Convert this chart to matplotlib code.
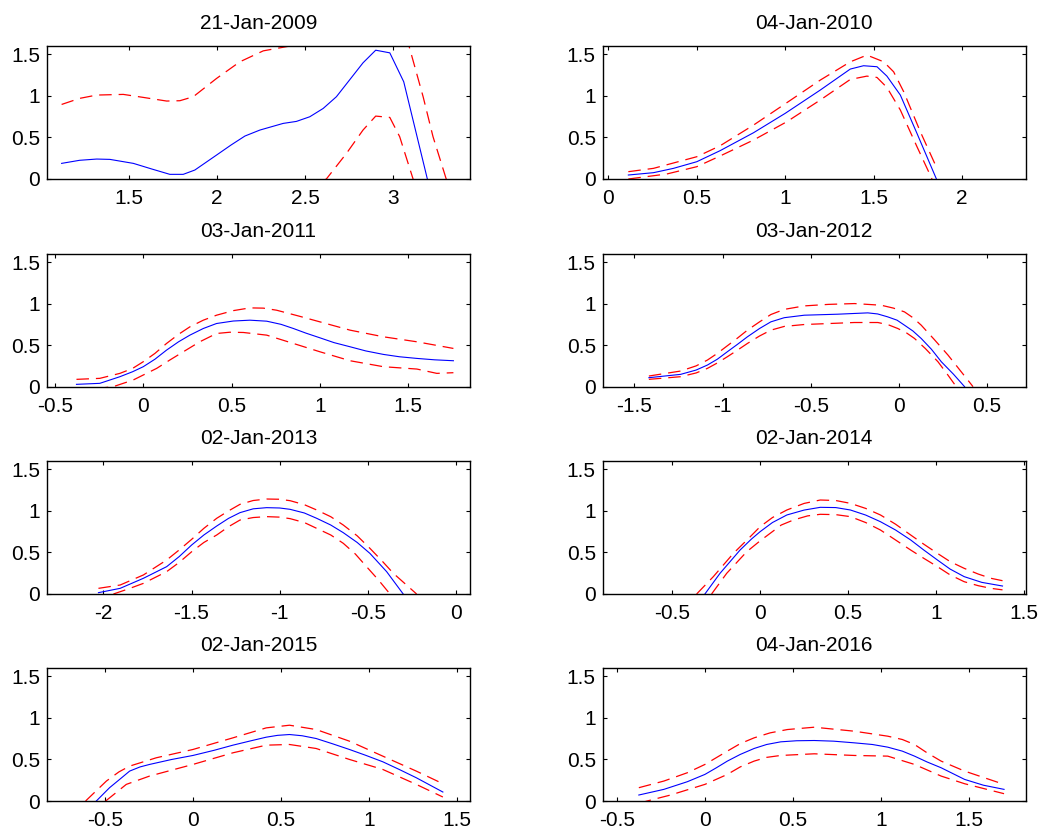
import numpy as np
import matplotlib
matplotlib.use('Agg')
import matplotlib.pyplot as plt
from matplotlib.ticker import FormatStrFormatter

plt.rcParams['font.family'] = ['Liberation Sans', 'DejaVu Sans']
plt.rcParams['lines.scale_dashes'] = False

titles = ['21-Jan-2009', '04-Jan-2010', '03-Jan-2011', '03-Jan-2012',
          '02-Jan-2013', '02-Jan-2014', '02-Jan-2015', '04-Jan-2016']
xlims = [(1.035, 3.435), (-0.032, 2.36), (-0.545, 1.85), (-1.68, 0.72),
         (-2.32, 0.08), (-0.895, 1.51), (-0.828, 1.572), (-0.58, 1.82)]
xticks = [[1.5, 2, 2.5, 3], [0, 0.5, 1, 1.5, 2], [-0.5, 0, 0.5, 1, 1.5],
          [-1.5, -1, -0.5, 0, 0.5], [-2, -1.5, -1, -0.5, 0],
          [-0.5, 0, 0.5, 1, 1.5], [-0.5, 0, 0.5, 1, 1.5], [-0.5, 0, 0.5, 1, 1.5]]
yticks = [0, 0.5, 1, 1.5]

# (x, density) estimate and upper / lower bands
est_2009 = [(1.118, 0.188), (1.22, 0.225), (1.317, 0.24), (1.392, 0.236), (1.525, 0.188),
            (1.63, 0.12), (1.732, 0.056), (1.808, 0.056), (1.874, 0.108), (1.997, 0.288),
            (2.08, 0.41), (2.158, 0.517), (2.243, 0.589), (2.375, 0.669), (2.45, 0.693),
            (2.526, 0.749), (2.602, 0.849), (2.677, 0.99), (2.828, 1.398), (2.90, 1.55),
            (2.98, 1.518), (3.059, 1.17), (3.193, 0.0), (3.25, -0.3)]
hi_2009 = [(1.118, 0.897), (1.22, 0.97), (1.317, 1.01), (1.468, 1.018), (1.581, 0.982),
           (1.714, 0.938), (1.789, 0.942), (1.865, 0.99), (1.997, 1.21), (2.129, 1.41),
           (2.262, 1.542), (2.413, 1.60), (2.6, 1.66), (2.8, 1.95), (2.95, 2.1),
           (3.05, 1.8), (3.089, 1.6), (3.169, 0.99), (3.225, 0.51), (3.30, 0.0), (3.35, -0.3)]
lo_2009 = [(1.118, -0.52), (1.5, -0.62), (2.0, -0.6), (2.4, -0.25), (2.62, 0.0),
           (2.734, 0.308), (2.828, 0.589), (2.90, 0.757), (2.98, 0.741), (3.036, 0.509),
           (3.112, 0.0), (3.15, -0.3)]

est_2010 = [(0.113, 0.048), (0.255, 0.076), (0.368, 0.128), (0.5, 0.208), (0.632, 0.341),
            (0.821, 0.557), (1.0, 0.79), (1.198, 1.07), (1.368, 1.323), (1.443, 1.363),
            (1.519, 1.351), (1.575, 1.238), (1.651, 1.01), (1.745, 0.549), (1.855, 0.0)]
hi_2010 = [(0.113, 0.088), (0.255, 0.128), (0.5, 0.268), (0.632, 0.40), (0.821, 0.649),
           (1.009, 0.918), (1.198, 1.19), (1.368, 1.41), (1.462, 1.491), (1.557, 1.41),
           (1.613, 1.29), (1.67, 1.05), (1.764, 0.569), (1.858, 0.128)]
lo_2010 = [(0.113, 0.0), (0.33, 0.06), (0.5, 0.148), (0.632, 0.277), (0.821, 0.469),
           (1.009, 0.689), (1.198, 0.95), (1.368, 1.198), (1.462, 1.238), (1.519, 1.222),
           (1.575, 1.102), (1.651, 0.83), (1.745, 0.389), (1.83, 0.0)]

est_2011 = [(-0.378, 0.028), (-0.246, 0.04), (-0.132, 0.12), (-0.06, 0.18), (0.0, 0.24),
            (0.066, 0.33), (0.132, 0.44), (0.2, 0.54), (0.264, 0.62), (0.34, 0.70),
            (0.415, 0.76), (0.51, 0.79), (0.604, 0.80), (0.699, 0.788), (0.78, 0.75),
            (0.85, 0.70), (0.92, 0.645), (1.0, 0.588), (1.08, 0.53), (1.171, 0.48),
            (1.26, 0.43), (1.36, 0.388), (1.45, 0.36), (1.549, 0.34), (1.65, 0.323),
            (1.756, 0.312)]
hi_2011 = [(-0.378, 0.088), (-0.246, 0.10), (-0.132, 0.16), (-0.06, 0.22), (0.0, 0.30),
           (0.066, 0.40), (0.132, 0.52), (0.2, 0.63), (0.264, 0.72), (0.34, 0.80),
           (0.415, 0.86), (0.51, 0.915), (0.604, 0.948), (0.68, 0.945), (0.755, 0.92),
           (0.88, 0.85), (1.0, 0.78), (1.171, 0.68), (1.36, 0.60), (1.549, 0.54), (1.756, 0.46)]
lo_2011 = [(-0.378, -0.05), (-0.17, 0.0), (-0.057, 0.08), (0.076, 0.22), (0.15, 0.32),
           (0.227, 0.42), (0.32, 0.54), (0.415, 0.64), (0.49, 0.655), (0.567, 0.652),
           (0.699, 0.62), (0.85, 0.52), (1.0, 0.42), (1.171, 0.312), (1.36, 0.24),
           (1.549, 0.212), (1.662, 0.16), (1.756, 0.168)]

est_2012 = [(-1.418, 0.108), (-1.238, 0.148), (-1.15, 0.2), (-1.086, 0.26), (-1.03, 0.33),
            (-0.973, 0.42), (-0.915, 0.51), (-0.859, 0.60), (-0.79, 0.70), (-0.726, 0.78),
            (-0.65, 0.83), (-0.536, 0.86), (-0.347, 0.872), (-0.176, 0.888), (-0.12, 0.875),
            (-0.063, 0.84), (-0.01, 0.80), (0.032, 0.74), (0.08, 0.67), (0.127, 0.58),
            (0.185, 0.45), (0.241, 0.30), (0.31, 0.15), (0.373, 0.0)]
hi_2012 = [(-1.418, 0.128), (-1.238, 0.188), (-1.15, 0.25), (-1.086, 0.32), (-1.03, 0.40),
           (-0.973, 0.492), (-0.915, 0.585), (-0.859, 0.68), (-0.79, 0.78), (-0.726, 0.868),
           (-0.65, 0.93), (-0.536, 0.972), (-0.4, 0.99), (-0.252, 1.0), (-0.10, 0.98),
           (-0.03, 0.945), (0.032, 0.90), (0.08, 0.83), (0.127, 0.74), (0.2, 0.57),
           (0.279, 0.38), (0.35, 0.19), (0.421, 0.0)]
lo_2012 = [(-1.418, 0.088), (-1.238, 0.12), (-1.15, 0.165), (-1.086, 0.22), (-1.03, 0.285),
           (-0.973, 0.36), (-0.915, 0.44), (-0.859, 0.52), (-0.79, 0.61), (-0.726, 0.68),
           (-0.65, 0.725), (-0.536, 0.748), (-0.252, 0.772), (-0.119, 0.772), (-0.06, 0.745),
           (-0.006, 0.70), (0.045, 0.645), (0.089, 0.58), (0.15, 0.46), (0.222, 0.30),
           (0.275, 0.15), (0.326, 0.0)]

est_2013 = [(-2.028, 0.016), (-1.905, 0.068), (-1.773, 0.189), (-1.641, 0.329), (-1.57, 0.45),
            (-1.499, 0.59), (-1.43, 0.71), (-1.357, 0.818), (-1.29, 0.91), (-1.225, 0.979),
            (-1.15, 1.025), (-1.074, 1.039), (-1.0, 1.035), (-0.941, 1.019), (-0.86, 0.975),
            (-0.79, 0.911), (-0.71, 0.83), (-0.639, 0.738), (-0.56, 0.62), (-0.488, 0.489),
            (-0.393, 0.269), (-0.299, 0.0)]
hi_2013 = [(-2.028, 0.068), (-1.905, 0.108), (-1.773, 0.229), (-1.641, 0.409), (-1.57, 0.53),
           (-1.499, 0.658), (-1.43, 0.79), (-1.357, 0.911), (-1.29, 1.0), (-1.225, 1.079),
           (-1.15, 1.125), (-1.074, 1.143), (-1.0, 1.14), (-0.941, 1.123), (-0.86, 1.075),
           (-0.79, 1.011), (-0.71, 0.93), (-0.639, 0.83), (-0.56, 0.70), (-0.488, 0.55),
           (-0.42, 0.40), (-0.355, 0.249), (-0.223, 0.0)]
lo_2013 = [(-1.943, 0.0), (-1.86, 0.06), (-1.773, 0.128), (-1.641, 0.269), (-1.57, 0.38),
           (-1.499, 0.509), (-1.43, 0.62), (-1.357, 0.71), (-1.29, 0.81), (-1.225, 0.89),
           (-1.15, 0.92), (-1.074, 0.931), (-1.0, 0.925), (-0.941, 0.907), (-0.86, 0.86),
           (-0.79, 0.79), (-0.71, 0.71), (-0.639, 0.61), (-0.57, 0.48), (-0.507, 0.329),
           (-0.44, 0.17), (-0.374, 0.0)]

est_2014 = [(-0.314, 0.0), (-0.228, 0.249), (-0.114, 0.529), (-0.05, 0.66), (0.0, 0.75),
            (0.07, 0.86), (0.152, 0.951), (0.25, 1.01), (0.342, 1.043), (0.43, 1.04),
            (0.513, 1.011), (0.6, 0.95), (0.684, 0.870), (0.77, 0.77), (0.856, 0.65),
            (0.93, 0.53), (1.008, 0.409), (1.08, 0.30), (1.16, 0.209), (1.26, 0.14),
            (1.378, 0.096)]
hi_2014 = [(-0.361, 0.0), (-0.266, 0.209), (-0.152, 0.489), (-0.07, 0.66), (0.0, 0.81),
           (0.07, 0.92), (0.152, 1.011), (0.25, 1.09), (0.342, 1.131), (0.43, 1.125),
           (0.513, 1.091), (0.6, 1.03), (0.684, 0.951), (0.77, 0.84), (0.856, 0.71),
           (0.93, 0.60), (1.008, 0.489), (1.08, 0.39), (1.16, 0.309), (1.24, 0.24),
           (1.312, 0.189), (1.378, 0.16)]
lo_2014 = [(-0.276, 0.0), (-0.19, 0.249), (-0.076, 0.509), (0.0, 0.64), (0.057, 0.73),
           (0.12, 0.83), (0.19, 0.891), (0.27, 0.94), (0.342, 0.959), (0.43, 0.955),
           (0.513, 0.931), (0.6, 0.86), (0.684, 0.77), (0.77, 0.65), (0.856, 0.529),
           (0.93, 0.43), (1.008, 0.329), (1.08, 0.23), (1.16, 0.148), (1.24, 0.10),
           (1.312, 0.068), (1.378, 0.05)]

est_2015 = [(-0.548, 0.0), (-0.473, 0.16), (-0.41, 0.27), (-0.359, 0.36), (-0.3, 0.41),
            (-0.246, 0.44), (-0.12, 0.50), (0.0, 0.548), (0.12, 0.61), (0.227, 0.672),
            (0.33, 0.725), (0.416, 0.768), (0.48, 0.79), (0.548, 0.80), (0.62, 0.785),
            (0.699, 0.752), (0.79, 0.69), (0.888, 0.62), (0.98, 0.55), (1.077, 0.472),
            (1.17, 0.38), (1.267, 0.28), (1.418, 0.108)]
hi_2015 = [(-0.609, 0.0), (-0.491, 0.24), (-0.42, 0.35), (-0.359, 0.42), (-0.208, 0.52),
           (0.0, 0.62), (0.227, 0.76), (0.416, 0.88), (0.548, 0.912), (0.699, 0.86),
           (0.888, 0.72), (1.077, 0.54), (1.267, 0.36), (1.418, 0.208)]
lo_2015 = [(-0.495, 0.0), (-0.378, 0.20), (-0.246, 0.30), (0.0, 0.44), (0.227, 0.58),
           (0.416, 0.672), (0.548, 0.68), (0.699, 0.632), (0.888, 0.50), (1.077, 0.38),
           (1.267, 0.20), (1.418, 0.048)]

est_2016 = [(-0.375, 0.072), (-0.233, 0.14), (-0.10, 0.232), (0.0, 0.32), (0.065, 0.40),
            (0.127, 0.48), (0.2, 0.56), (0.279, 0.632), (0.35, 0.68), (0.43, 0.712),
            (0.52, 0.725), (0.62, 0.728), (0.73, 0.72), (0.847, 0.70), (0.95, 0.68),
            (1.037, 0.648), (1.12, 0.60), (1.189, 0.54), (1.26, 0.47), (1.34, 0.40),
            (1.473, 0.26), (1.58, 0.19), (1.697, 0.14)]
hi_2016 = [(-0.375, 0.16), (-0.233, 0.24), (-0.10, 0.34), (0.0, 0.44), (0.127, 0.60),
           (0.2, 0.69), (0.279, 0.76), (0.37, 0.82), (0.468, 0.86), (0.62, 0.888),
           (0.847, 0.84), (1.037, 0.78), (1.12, 0.74), (1.189, 0.68), (1.26, 0.58),
           (1.34, 0.48), (1.473, 0.36), (1.697, 0.20)]
lo_2016 = [(-0.375, -0.03), (-0.328, 0.0), (-0.195, 0.072), (0.0, 0.20), (0.127, 0.32),
           (0.2, 0.41), (0.279, 0.48), (0.35, 0.525), (0.43, 0.548), (0.62, 0.568),
           (0.847, 0.548), (1.037, 0.54), (1.189, 0.44), (1.34, 0.30), (1.473, 0.208),
           (1.697, 0.088)]

panels = [(est_2009, hi_2009, lo_2009), (est_2010, hi_2010, lo_2010),
          (est_2011, hi_2011, lo_2011), (est_2012, hi_2012, lo_2012),
          (est_2013, hi_2013, lo_2013), (est_2014, hi_2014, lo_2014),
          (est_2015, hi_2015, lo_2015), (est_2016, hi_2016, lo_2016)]

fig = plt.figure(figsize=(10.44, 8.31), dpi=100)
lefts = [0.045, 0.5773]
bottoms = [0.7846, 0.5347, 0.2852, 0.0361]
w, h = 0.4052, 0.160

for i, (est, hi, lo) in enumerate(panels):
    ax = fig.add_axes([lefts[i % 2], bottoms[i // 2], w, h])
    for band in (hi, lo):
        b = np.array(band)
        ax.plot(b[:, 0], b[:, 1], color='#ff0000', lw=0.9, dashes=(9, 5))
    e = np.array(est)
    ax.plot(e[:, 0], e[:, 1], color='#0000ff', lw=0.8)
    ax.set_xlim(*xlims[i])
    ax.set_ylim(0, 1.6)
    ax.set_xticks(xticks[i])
    ax.set_yticks(yticks)
    ax.xaxis.set_major_formatter(FormatStrFormatter('%g'))
    ax.yaxis.set_major_formatter(FormatStrFormatter('%g'))
    ax.tick_params(direction='in', top=True, right=True, length=2.7, width=0.8,
                   labelsize=15)
    ax.tick_params(axis='x', pad=7.5)
    ax.tick_params(axis='y', pad=5)
    for s in ax.spines.values():
        s.set_linewidth(1.0)
    ax.set_title(titles[i], fontsize=15, pad=12)

fig.savefig('out.png', dpi=100)
